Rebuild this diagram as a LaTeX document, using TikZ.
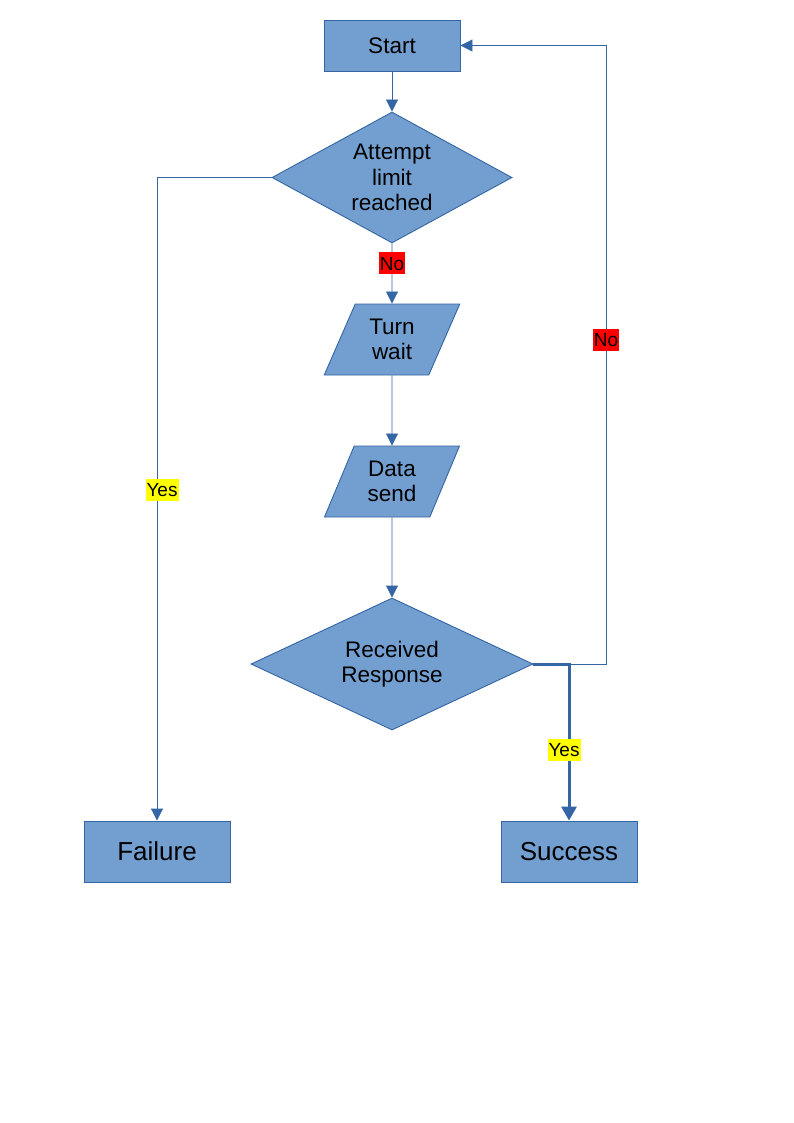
\documentclass[tikz,border=0pt]{standalone}
\usepackage{fontspec}
\setmainfont{Liberation Sans}
\usetikzlibrary{shapes.geometric,arrows.meta}
\definecolor{boxfill}{HTML}{729FCF}
\definecolor{boxline}{HTML}{3465A4}
\definecolor{lblred}{HTML}{FF0000}
\definecolor{lblyellow}{HTML}{FFFF00}
\begin{document}
\begin{tikzpicture}[x=1pt,y=-1pt,
  shp/.style={fill=boxfill,draw=boxline,line width=0.9pt,align=center,inner sep=0pt,
    font=\fontsize{22.5}{25.5}\selectfont},
  boxn/.style={shp,rectangle,minimum width=136pt,minimum height=51pt},
  endbox/.style={shp,rectangle,minimum height=61pt,font=\fontsize{26}{28}\selectfont},
  decn/.style={shp,diamond,aspect=1.83},
  iobox/.style={shp,trapezium,trapezium left angle=65.07,trapezium right angle=114.93,
    trapezium stretches=true,minimum width=136pt,minimum height=71pt},
  conn/.style={draw=boxline,line width=0.9pt,-{Triangle[length=12pt,width=12pt]}},
  thickconn/.style={draw=boxline,line width=3pt,-{Triangle[length=14pt,width=15pt]}},
  lbl/.style={inner xsep=1pt,inner ysep=0pt,text height=17.8pt,text depth=4.2pt,
    font=\fontsize{19}{21}\selectfont,text=black}
]
\useasboundingbox (0,0) rectangle (794,1123);
\node[boxn] (start) at (392,45.5) {Start};
\node[decn,minimum width=240pt,minimum height=131pt] (d1) at (392,177.5) {Attempt\\limit\\reached};
\node[iobox] (tw) at (392,339.5) {Turn\\wait};
\node[iobox] (ds) at (392,481.5) {Data\\send};
\node[decn,minimum width=282pt,minimum height=132pt] (d2) at (392,664) {Received\\Response};
\node[endbox,minimum width=146pt] (fail) at (157,851.5) {Failure};
\node[endbox,minimum width=136pt] (succ) at (569,851.5) {Success};
\coordinate (c1) at (606,664);

\draw[conn] (start.south) -- (d1.north);
\draw[conn] (d1.south) -- node[pos=0.33,lbl,fill=lblred]{No} (tw.north);
\draw[conn] (tw.south) -- (ds.north);
\draw[conn] (ds.south) -- (d2.north);
\draw[conn] (d1.west) -| node[pos=0.743,lbl,fill=lblyellow,xshift=5pt]{Yes} (fail.north);
\draw[conn] (d2.east) -- (c1) |- node[pos=0.262,lbl,fill=lblred]{No} (start.east);
\draw[thickconn] (d2.east) -| node[pos=0.774,lbl,fill=lblyellow,xshift=-5pt]{Yes} (succ.north);
\end{tikzpicture}
\end{document}
